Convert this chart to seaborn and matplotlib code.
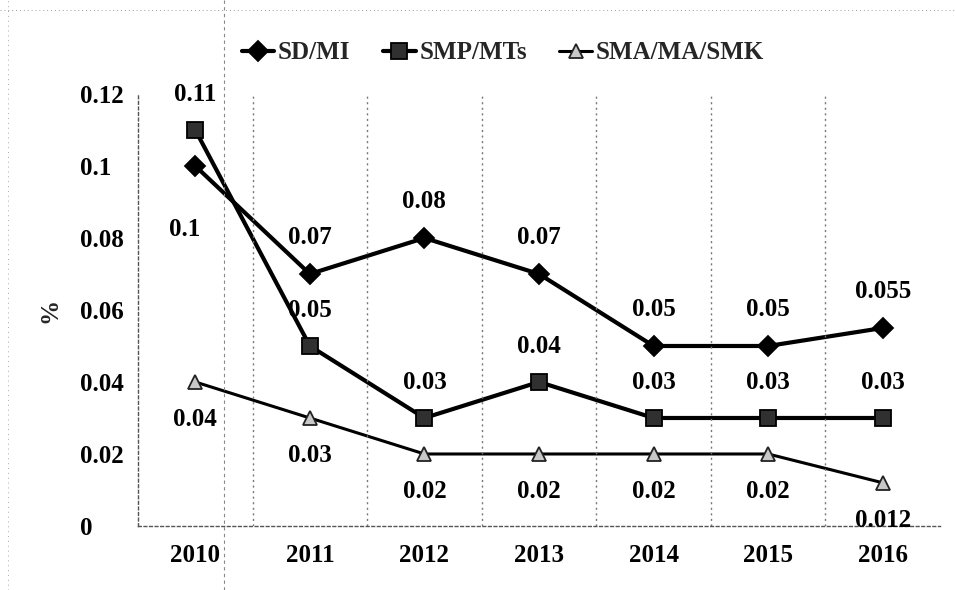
import matplotlib
matplotlib.use("Agg")
import matplotlib.pyplot as plt
import seaborn as sns
import pandas as pd

years = ["2010", "2011", "2012", "2013", "2014", "2015", "2016"]
sd_mi = [0.1, 0.07, 0.08, 0.07, 0.05, 0.05, 0.055]
smp_mts = [0.11, 0.05, 0.03, 0.04, 0.03, 0.03, 0.03]
sma_ma_smk = [0.04, 0.03, 0.02, 0.02, 0.02, 0.02, 0.012]
series_names = ["SD/MI", "SMP/MTs", "SMA/MA/SMK"]
y_ticks = [0, 0.02, 0.04, 0.06, 0.08, 0.1, 0.12]
y_tick_labels = ["0", "0.02", "0.04", "0.06", "0.08", "0.1", "0.12"]

sns.set_theme(style="white")
plt.rcParams["font.family"] = ["Liberation Serif", "DejaVu Serif"]
plt.rcParams["font.weight"] = "bold"

rows = []
for name, vals in zip(series_names, [sd_mi, smp_mts, sma_ma_smk]):
    for i, v in enumerate(vals):
        rows.append({"pos": i, "year": years[i], "value": v, "series": name})
df = pd.DataFrame(rows)

fig = plt.figure(figsize=(9.55, 5.9), dpi=100)
ax = fig.add_axes([0.1445, 0.1085, 0.8398, 0.7322])

styles = {
    "SD/MI": dict(marker="D", markersize=10, lw=3.0, mfc="black", mec="black"),
    "SMP/MTs": dict(marker="s", markersize=11.5, lw=3.0, mfc="#303030", mec="black"),
    "SMA/MA/SMK": dict(marker="^", markersize=10, lw=2.2, mfc="#c8c8c8", mec="#222222"),
}
for name in series_names:
    st = styles[name]
    sub = df[df["series"] == name]
    sns.lineplot(data=sub, x="pos", y="value", ax=ax, color="black",
                 linewidth=st["lw"], marker=st["marker"], markersize=st["markersize"],
                 markerfacecolor=st["mfc"], markeredgecolor=st["mec"],
                 markeredgewidth=1.3, label=name)

ax.set_xlim(-0.5, len(years) - 0.5)
ax.set_ylim(0, 0.12)
ax.set_xticks(range(len(years)))
ax.set_xticklabels(years)
ax.set_yticks(y_ticks)
ax.set_yticklabels(y_tick_labels)
ax.tick_params(axis="both", labelsize=18, length=0, colors="black")
ax.tick_params(axis="x", pad=13)
ax.tick_params(axis="y", pad=42)
for lab in ax.get_yticklabels():
    lab.set_horizontalalignment("left")
ax.set_xlabel("")
ax.set_ylabel("")
fig.text(50 / 955, 1 - 310 / 590, "%", rotation=90, fontsize=18, fontweight="bold",
         ha="center", va="center")

# dotted category separators
for b in range(1, len(years)):
    ax.axvline(b - 0.5, color="#777777", lw=1.0, ls=(0, (1.5, 2.5)))

for side in ["top", "right"]:
    ax.spines[side].set_visible(False)
for side in ["left", "bottom"]:
    ax.spines[side].set_color("#555555")
    ax.spines[side].set_linewidth(1.0)
    ax.spines[side].set_linestyle((0, (2, 2)))

# value labels, offsets in points
def put(i, v, dx, dy):
    ax.annotate(f"{v:g}", (i, v), xytext=(dx, dy), textcoords="offset points",
                fontsize=18, fontweight="bold", color="black", ha="center", va="center")

for i, v in enumerate(sd_mi):
    if i == 0:
        put(i, v, -8, -46)
    else:
        put(i, v, 0, 26.5)
for i, v in enumerate(smp_mts):
    put(i, v, 0, 25.5)
for i, v in enumerate(sma_ma_smk):
    put(i, v, 0, -27)

ax.legend(loc="center", bbox_to_anchor=(0.455, 1.0 + (94 - 53) / 432), ncol=3, frameon=False,
          fontsize=18, handlelength=1.3, handletextpad=0.15, columnspacing=1.3,
          prop={"weight": "bold", "size": 18})

# page edges and crease from the scanned sheet
fig.add_artist(plt.Line2D([224 / 955, 224 / 955], [0, 1], transform=fig.transFigure,
                          color="#888888", lw=0.8, ls=(0, (3, 3))))
fig.add_artist(plt.Line2D([0, 1], [1 - 10 / 590, 1 - 10 / 590], transform=fig.transFigure,
                          color="#999999", lw=0.7, ls=(0, (1, 3))))
fig.add_artist(plt.Line2D([8 / 955, 8 / 955], [0, 1], transform=fig.transFigure,
                          color="#aaaaaa", lw=0.7, ls=(0, (1, 4))))

fig.savefig("out.png", dpi=100, facecolor="white")
